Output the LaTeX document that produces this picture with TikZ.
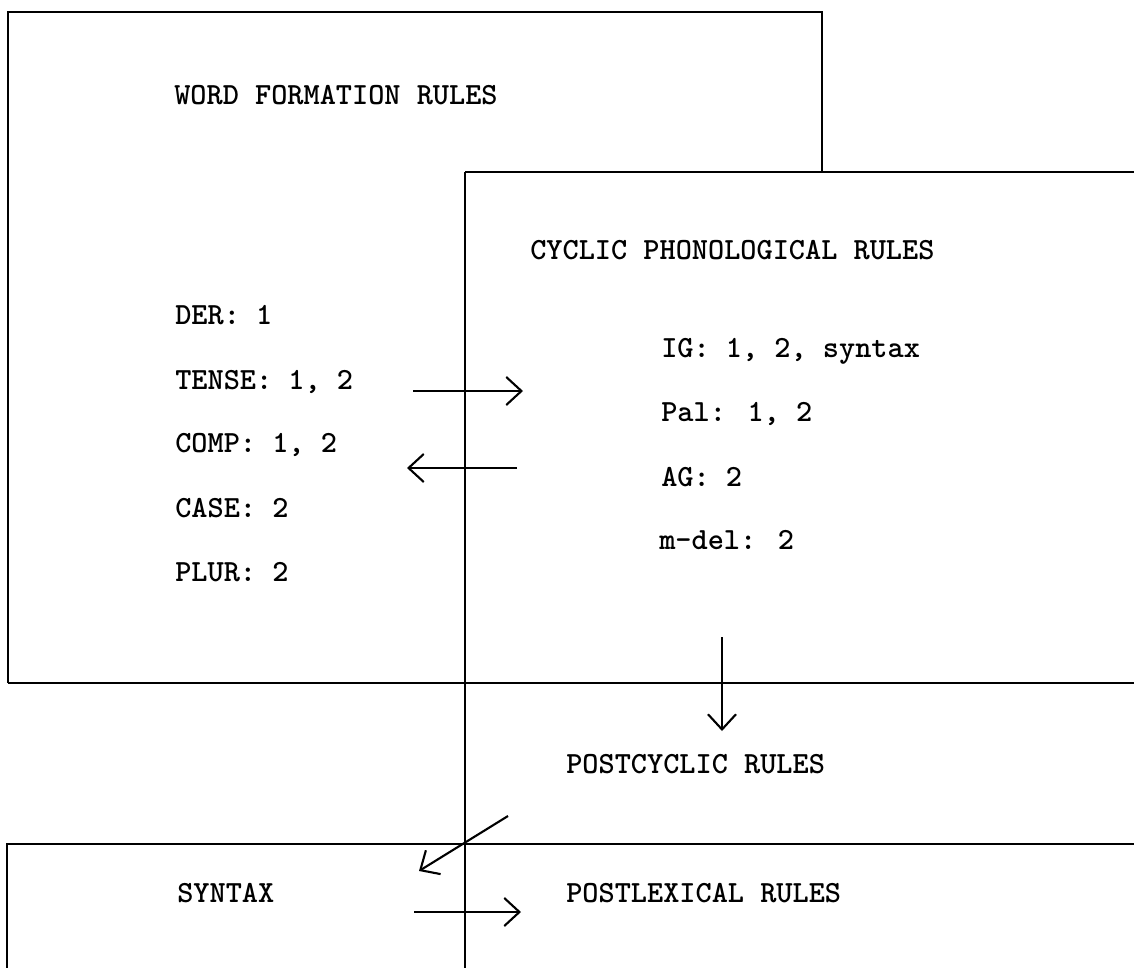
\documentclass[tikz,border=0pt]{standalone}
\usepackage{fontspec}
\usepackage{tikz}
\usetikzlibrary{arrows.meta}
\tikzset{
  rulelabel/.style={anchor=base west, inner sep=0pt, font=\ttfamily\bfseries\fontsize{21.9}{26}\selectfont},
  frame/.style={line width=1.4pt},
  flow/.style={line width=1.5pt, -{Straight Barb[length=3.8mm,width=7mm,line width=1.5pt]}}
}
\begin{document}
\begin{tikzpicture}[x=0.025cm, y=-0.025cm]
  \useasboundingbox (0,0) rectangle (1134,968);
  % frames
  \draw[frame] (8,683) -- (8,12) -- (822,12) -- (822,172);
  \draw[frame] (465,172) -- (1134,172);
  \draw[frame] (465,172) -- (465,968);
  \draw[frame] (8,683) -- (1134,683);
  \draw[frame] (7,968) -- (7,844) -- (1134,844);
  % word formation
  \node[rulelabel] (wfr) at (174,104) {WORD FORMATION RULES};
  \node[rulelabel] (der) at (175,324) {DER: 1};
  \node[rulelabel] (tense) at (175,389) {TENSE: 1, 2};
  \node[rulelabel] (comp) at (175,452) {COMP: 1, 2};
  \node[rulelabel] (case) at (175,517) {CASE: 2};
  \node[rulelabel] (plur) at (175,581) {PLUR: 2};
  % cyclic rules
  \node[rulelabel] (cpr) at (530,259) {CYCLIC PHONOLOGICAL RULES};
  \node[rulelabel] (ig) at (661,357) {IG: 1, 2, syntax};
  \node[rulelabel] (pal) at (661,421) {Pal: 1, 2};
  \node[rulelabel] (ag) at (661,486) {AG: 2};
  \node[rulelabel] (mdel) at (659,549) {m-del: 2};
  % lower part
  \node[rulelabel] (post) at (566,773) {POSTCYCLIC RULES};
  \node[rulelabel] (syn) at (177,902) {SYNTAX};
  \node[rulelabel] (plex) at (566,902) {POSTLEXICAL RULES};
  % arrow ends
  \coordinate (tenseA) at (413,391);
  \coordinate (tenseB) at (523,391);
  \coordinate (compA) at (517,468);
  \coordinate (compB) at (407,468);
  \coordinate (cycA) at (722,637);
  \coordinate (cycB) at (722,731);
  \coordinate (pcA) at (508,816);
  \coordinate (pcB) at (419,871);
  \coordinate (synA) at (414,912);
  \coordinate (synB) at (521,912);
  \draw[flow] (tenseA) -- (tenseB);
  \draw[flow] (compA) -- (compB);
  \draw[flow] (cycA) -- (cycB);
  \draw[flow] (pcA) -- (pcB);
  \draw[flow] (synA) -- (synB);
\end{tikzpicture}
\end{document}
